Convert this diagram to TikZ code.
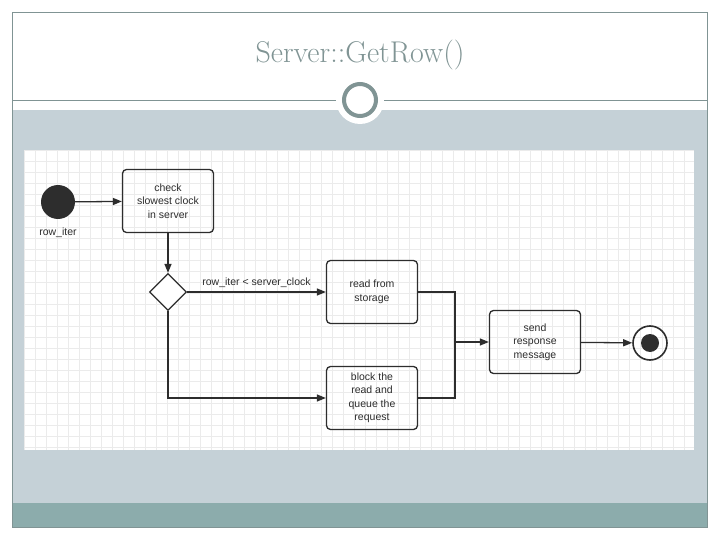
\documentclass[tikz,border=0pt]{standalone}
\usepackage{fontspec}
\setsansfont{Liberation Sans}
\usetikzlibrary{shapes.geometric,arrows.meta}
\definecolor{slategray}{RGB}{128,148,148}
\definecolor{bandblue}{RGB}{197,209,215}
\definecolor{footteal}{RGB}{140,172,172}
\definecolor{inkgray}{RGB}{45,45,45}
\tikzset{
  state/.style={draw=inkgray,line width=1.3pt,rounded corners=4pt,minimum width=91pt,minimum height=63pt,
    align=center,font=\sffamily\fontsize{10.5}{13.5}\selectfont,text=inkgray},
  flow/.style={draw=inkgray,line width=1.3pt,-{Triangle[length=9pt,width=7pt]}},
  plain/.style={draw=inkgray,line width=1.3pt}
}
\begin{document}
\begin{tikzpicture}[x=1pt,y=-1pt]
  \useasboundingbox (0,0) rectangle (720,540);
  % slide frame
  \fill[bandblue] (12,110) rectangle (707,503);
  \fill[footteal] (12,503) rectangle (707,527);
  \draw[slategray] (12,12) rectangle (707,527);
  \draw[slategray] (12,100) -- (707,100);
  \fill[white] (360,100) circle (24);
  \draw[slategray,line width=4pt] (360,100) circle (16);
  \node[text=slategray,font=\fontsize{30}{32}\selectfont] (title) at (360,55) {Server::GetRow()};
  % canvas with grid
  \fill[white] (24,150) rectangle (694,450);
  \foreach \i in {0,...,60}
  {
    \pgfmathsetmacro{\x}{24+\i*11};
    \draw[black!8] (\x,150) -- (\x,450);
  }
  \foreach \j in {0,...,27}
  {
    \pgfmathsetmacro{\y}{150+\j*11};
    \draw[black!8] (24,\y) -- (694,\y);
  }
  % nodes
  \node[circle,fill=inkgray,minimum size=34pt,inner sep=0pt] (start) at (58,202) {};
  \node[font=\sffamily\fontsize{10.5}{12}\selectfont,text=inkgray] (startlbl) at (58,233) {row\_iter};
  \node[state] (check) at (168,201) {check\\slowest clock\\in server};
  \node[diamond,draw=inkgray,line width=1.3pt,fill=white,minimum size=37pt,inner sep=0pt] (choice) at (168,292) {};
  \node[state] (read) at (372,292) {read from\\storage};
  \node[state] (block) at (372,398) {block the\\read and\\queue the\\request};
  \node[state] (send) at (535,342) {send\\response\\message};
  \node[circle,draw=inkgray,line width=1.6pt,minimum size=34pt,inner sep=0pt] (final) at (650,343) {};
  \node[circle,fill=inkgray,minimum size=18pt,inner sep=0pt] (finaldot) at (final) {};
  \coordinate (merge) at (455,342);
  % connectors
  \draw[flow] (start) -- (check);
  \draw[flow] (check) -- (choice);
  \draw[flow] (choice) -- node[above,font=\sffamily\fontsize{10.5}{12}\selectfont,text=inkgray] (guard) {row\_iter < server\_clock} (read);
  \draw[flow] (choice) |- (block);
  \draw[plain] (read.east) -| (merge);
  \draw[plain] (block.east) -| (merge);
  \draw[flow] (merge) -- (send);
  \draw[flow] (send) -- (final);
\end{tikzpicture}
\end{document}
